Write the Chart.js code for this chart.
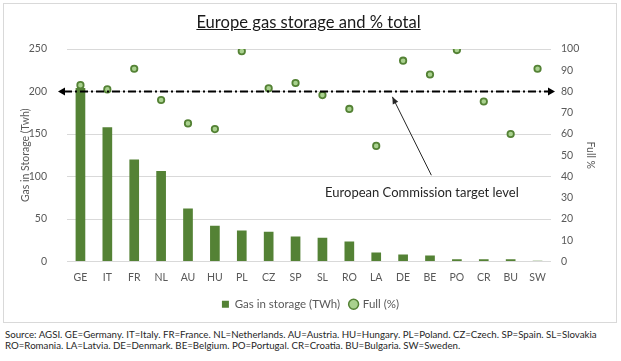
<!DOCTYPE html>
<html>
<head>
<meta charset="utf-8">
<script src="https://cdn.jsdelivr.net/npm/chart.js@4"></script>
<style>
    body { margin: 0; background: #fff; font-family: Lato, sans-serif; }
    #wrap { position: relative; width: 621px; height: 361px; overflow: hidden; }
    #box { position: absolute; left: 3px; top: 3px; width: 612px; height: 318px; border: 1px solid #d9d9d9; }
    #chart { position: absolute; left: 0; top: 0; }
    #title { position: absolute; left: 0; width: 617px; top: 12px; text-align: center; font-size: 16.6px; color: #1a1a1a; text-decoration: underline; }
    #note { position: absolute; left: 5px; top: 329px; font-size: 9.7px; line-height: 11px; color: #262626; white-space: nowrap; }
</style>
</head>
<body>
<div id="wrap">
    <div id="box"></div>
    <canvas id="chart" width="621" height="322"></canvas>
    <div id="title">Europe gas storage and % total</div>
    <div id="note">Source: AGSI. GE=Germany. IT=Italy. FR=France. NL=Netherlands. AU=Austria. HU=Hungary. PL=Poland. CZ=Czech. SP=Spain. SL=Slovakia<br>RO=Romania. LA=Latvia. DE=Denmark. BE=Belgium. PO=Portugal. CR=Croatia. BU=Bulgaria. SW=Sweden.</div>
</div>
<script>
let countries = ["GE", "IT", "FR", "NL", "AU", "HU", "PL", "CZ", "SP", "SL", "RO", "LA", "DE", "BE", "PO", "CR", "BU", "SW"];
let storageTwh = [204, 158, 120, 106.5, 62.5, 42, 36.6, 35, 29.5, 28, 23.6, 10.6, 8.3, 7, 2.7, 2.7, 2.7, 0.8];
let fullPct = [83, 81, 90.7, 76, 65, 62.3, 99, 81.5, 84, 78.3, 71.8, 54.4, 94.5, 88, 99.5, 75.3, 60, 90.7];
let targetLevel = 80;
let targetLabel = "European Commission target level";

const darkGreen = "#548235";
const lightGreen = "#a9d18e";
const tickColor = "#595959";
const tickFont = { family: "Lato", size: 10.5 };

function arrowHead(ctx, x, y, angle, len, half) {
    ctx.save();
    ctx.translate(x, y);
    ctx.rotate(angle);
    ctx.beginPath();
    ctx.moveTo(0, 0);
    ctx.lineTo(-len, -half);
    ctx.lineTo(-len, half);
    ctx.closePath();
    ctx.fill();
    ctx.restore();
}

// dash-dot target line + callout
const targetPlugin = {
    id: "target",
    afterDatasetsDraw(chart) {
        let ctx = chart.ctx;
        let area = chart.chartArea;
        let x = chart.scales.x, y1 = chart.scales.y1;
        let yy = y1.getPixelForValue(targetLevel);
        let x0 = area.left - 9, x2 = area.right + 4;

        ctx.save();
        ctx.strokeStyle = "#000";
        ctx.fillStyle = "#000";
        ctx.lineWidth = 2;
        ctx.setLineDash([8, 3, 2, 3]);
        ctx.beginPath();
        ctx.moveTo(x0 + 6, yy);
        ctx.lineTo(x2 - 6, yy);
        ctx.stroke();
        ctx.setLineDash([]);
        arrowHead(ctx, x0, yy, Math.PI, 7, 4);
        arrowHead(ctx, x2, yy, 0, 7, 4);

        // callout arrow, in data units
        let tipX = x.getPixelForValue(11.6), tipY = y1.getPixelForValue(77.5);
        let tailX = x.getPixelForValue(13.05), tailY = y1.getPixelForValue(40.6);
        ctx.lineWidth = 1;
        ctx.strokeStyle = "#262626";
        ctx.fillStyle = "#262626";
        ctx.beginPath();
        ctx.moveTo(tailX, tailY);
        ctx.lineTo(tipX, tipY);
        ctx.stroke();
        arrowHead(ctx, tipX, tipY, Math.atan2(tipY - tailY, tipX - tailX), 7, 3);

        ctx.font = "13px Lato";
        ctx.textAlign = "center";
        ctx.textBaseline = "middle";
        ctx.fillText(targetLabel, x.getPixelForValue(12.7), y1.getPixelForValue(32.5));
        ctx.restore();
    }
};

let ctx = document.getElementById("chart").getContext("2d");
let chartInstance = new Chart(ctx, {
    type: "bar",
    data: {
        labels: countries,
        datasets: [
            {
                type: "line",
                label: "Full (%)",
                data: fullPct,
                yAxisID: "y1",
                showLine: false,
                pointRadius: 3.2,
                pointBorderWidth: 1.8,
                pointBackgroundColor: lightGreen,
                pointBorderColor: darkGreen,
                backgroundColor: lightGreen,
                borderColor: darkGreen,
                order: 0
            },
            {
                label: "Gas in storage (TWh)",
                data: storageTwh,
                yAxisID: "y",
                backgroundColor: darkGreen,
                categoryPercentage: 1,
                barPercentage: 0.36,
                order: 1
            }
        ]
    },
    options: {
        responsive: false,
        animation: false,
        layout: { padding: { top: 49, bottom: 2, left: 0, right: 0 } },
        plugins: {
            title: { display: false },
            tooltip: { enabled: false },
            legend: {
                position: "bottom",
                reverse: true,
                labels: {
                    font: { family: "Lato", size: 11.5 },
                    color: tickColor,
                    usePointStyle: true,
                    boxWidth: 7,
                    boxHeight: 7,
                    padding: 10,
                    generateLabels: chart => Chart.defaults.plugins.legend.labels.generateLabels(chart).map(l => {
                        if (l.datasetIndex === 1) {
                            l.pointStyle = "rect";
                            l.fillStyle = darkGreen;
                            l.strokeStyle = darkGreen;
                            l.lineWidth = 0;
                        } else {
                            l.pointStyle = "circle";
                            l.fillStyle = lightGreen;
                            l.strokeStyle = darkGreen;
                            l.lineWidth = 1.5;
                        }
                        return l;
                    })
                }
            }
        },
        scales: {
            x: {
                grid: { display: false },
                border: { display: false },
                ticks: { color: tickColor, font: tickFont, maxRotation: 0, autoSkip: false, padding: 2 },
                afterFit: s => { s.height = 27; }
            },
            y: {
                position: "left",
                min: 0,
                max: 250,
                ticks: { stepSize: 50, color: tickColor, font: tickFont, padding: 20 },
                grid: { color: "#d9d9d9", drawTicks: false },
                border: { display: false },
                title: { display: true, text: "Gas in Storage (Twh)", color: tickColor, font: tickFont, padding: { top: 19, bottom: 0 } },
                afterFit: s => { s.width = 67; }
            },
            y1: {
                position: "right",
                min: 0,
                max: 100,
                ticks: { stepSize: 10, color: tickColor, font: tickFont, padding: 10, autoSkip: false },
                grid: { display: false, drawTicks: false },
                border: { display: false },
                title: { display: true, text: "Full %", color: tickColor, font: tickFont, padding: { top: 24, bottom: 0 } },
                afterFit: s => { s.width = 70; }
            }
        }
    },
    plugins: [targetPlugin]
});
</script>
</body>
</html>
